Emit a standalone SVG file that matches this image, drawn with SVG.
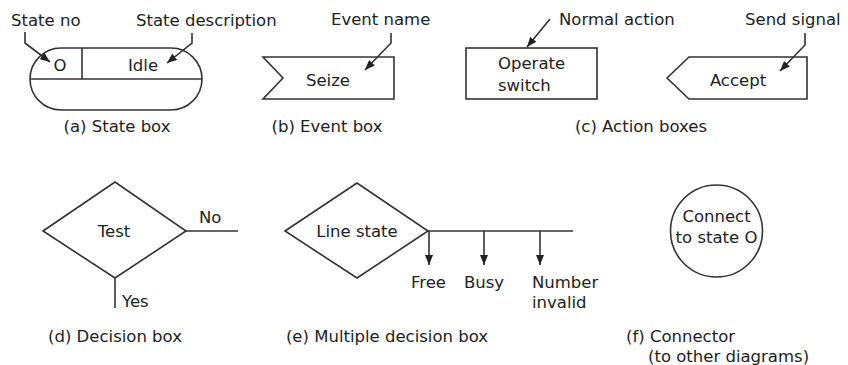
<svg xmlns="http://www.w3.org/2000/svg" width="848" height="365" viewBox="0 0 848 365">
<defs>
<style>
text{font-family:"DejaVu Sans","Liberation Sans",sans-serif;font-size:16.5px;fill:#222}
.c{text-anchor:middle}
.s{fill:#fff;stroke:#333;stroke-width:1.6}
.l{fill:none;stroke:#333;stroke-width:1.6}
</style>
<marker id="ah" viewBox="0 0 10 8" refX="10" refY="4" markerWidth="10" markerHeight="8" markerUnits="userSpaceOnUse" orient="auto">
<path d="M0,0 L10,4 L0,8 Z" fill="#222"/>
</marker>
</defs>
<rect width="848" height="365" fill="#fff"/>

<g id="state-box">
<rect class="s" x="30" y="48" width="172" height="62" rx="31"/>
<line class="l" x1="30" y1="79" x2="202" y2="79"/>
<line class="l" x1="82" y1="48" x2="82" y2="79"/>
<text class="c" x="60" y="71">O</text>
<text class="c" x="143" y="71">Idle</text>
<text x="11" y="26">State no</text>
<text x="136" y="26">State description</text>
<text class="c" x="117" y="132">(a) State box</text>
</g>

<g id="event-box">
<polygon class="s" points="263,57 394,57 394,99 263,99 283,78"/>
<text class="c" x="328" y="86">Seize</text>
<text x="331" y="25">Event name</text>
<text class="c" x="327" y="132">(b) Event box</text>
</g>

<g id="action-box">
<rect class="s" x="466" y="48" width="131" height="51"/>
<text x="498" y="69">Operate</text>
<text x="498" y="91">switch</text>
<text x="559" y="25">Normal action</text>
</g>

<g id="send-box">
<polygon class="s" points="667,78 689,57 807,57 807,99 689,99"/>
<text class="c" x="738" y="86">Accept</text>
<text x="745" y="25">Send signal</text>
<text class="c" x="641" y="132">(c) Action boxes</text>
</g>

<g id="decision-box">
<polygon class="s" points="43,231 115,182 186,231 115,278"/>
<text class="c" x="114" y="237">Test</text>
<text x="199" y="223">No</text>
<text x="122" y="307">Yes</text>
<text class="c" x="115" y="342">(d) Decision box</text>
</g>

<g id="multi-decision-box">
<polygon class="s" points="285,231 357,183 428,231 357,278"/>
<text class="c" x="357" y="237">Line state</text>
<text x="411" y="288">Free</text>
<text x="464" y="288">Busy</text>
<text x="532" y="288">Number</text>
<text x="532" y="308">invalid</text>
<text class="c" x="387" y="342">(e) Multiple decision box</text>
</g>

<g id="connector-node">
<circle class="s" cx="716.5" cy="231" r="46"/>
<text class="c" x="716.5" y="222">Connect</text>
<text class="c" x="716.5" y="243">to state O</text>
<text x="626" y="342">(f) Connector</text>
<text x="648" y="362">(to other diagrams)</text>
</g>

<g id="connectors">
<path class="l" d="M25,32 L25,43 L50,62" marker-end="url(#ah)"/>
<path class="l" d="M192,33 L192,43 L167,63" marker-end="url(#ah)"/>
<path class="l" d="M391,33 L391,43 L365,70" marker-end="url(#ah)"/>
<path class="l" d="M550,19 L527,47" marker-end="url(#ah)"/>
<path class="l" d="M805,33 L805,45 L780,71" marker-end="url(#ah)"/>
<line class="l" x1="186" y1="231" x2="238" y2="231"/>
<line class="l" x1="115" y1="278" x2="115" y2="308"/>
<line class="l" x1="428" y1="231" x2="573" y2="231"/>
<path class="l" d="M429,231 L429,265" marker-end="url(#ah)"/>
<path class="l" d="M484,231 L484,265" marker-end="url(#ah)"/>
<path class="l" d="M540,231 L540,265" marker-end="url(#ah)"/>
</g>
</svg>
